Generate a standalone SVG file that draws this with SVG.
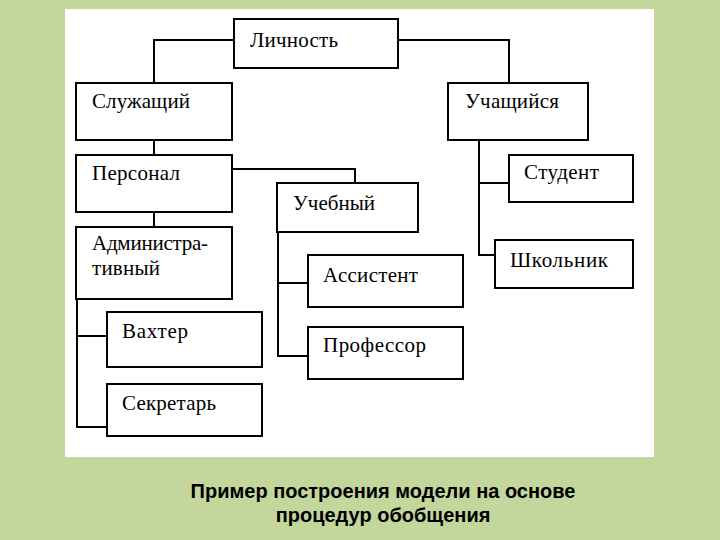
<svg xmlns="http://www.w3.org/2000/svg" width="720" height="540" viewBox="0 0 720 540">
<style>
.box{fill:#fff;stroke:#000;stroke-width:2}
.lbl{font-family:"Liberation Serif","Times New Roman",serif;font-size:21px;fill:#000}
.con{fill:none;stroke:#000;stroke-width:2}
.cap{font-family:"Liberation Sans",Arial,sans-serif;font-size:20px;font-weight:bold;fill:#000;text-anchor:middle}
</style>
<rect x="0" y="0" width="720" height="540" fill="#c3d69b"/>
<rect x="65" y="9" width="589" height="448" fill="#fff"/>
<g id="connectors">
<polyline class="con" points="234,40 154,40 154,83"/>
<polyline class="con" points="398,40 509,40 509,83"/>
<line class="con" x1="154" y1="140" x2="154" y2="155"/>
<polyline class="con" points="232,169 355,169 355,183"/>
<line class="con" x1="154" y1="212" x2="154" y2="227"/>
<polyline class="con" points="77,299 77,427 107,427"/>
<line class="con" x1="77" y1="336" x2="107" y2="336"/>
<polyline class="con" points="278,232 278,356 308,356"/>
<line class="con" x1="278" y1="283" x2="308" y2="283"/>
<polyline class="con" points="479,140 479,255 495,255"/>
<line class="con" x1="479" y1="183" x2="509" y2="183"/>
</g>
<g id="n-lichnost"><rect class="box" x="234" y="19" width="164" height="49"/><text class="lbl" x="250" y="47" textLength="88">Личность</text></g>
<g id="n-sluzhashchiy"><rect class="box" x="76" y="83" width="156" height="57"/><text class="lbl" x="92" y="108" textLength="98">Служащий</text></g>
<g id="n-personal"><rect class="box" x="76" y="155" width="156" height="57"/><text class="lbl" x="92" y="180" textLength="88">Персонал</text></g>
<g id="n-uchebny"><rect class="box" x="277" y="183" width="141" height="49"/><text class="lbl" x="293" y="210" textLength="82">Учебный</text></g>
<g id="n-admin"><rect class="box" x="76" y="227" width="156" height="72"/><text class="lbl" x="92" y="250" textLength="116">Администра-</text><text class="lbl" x="92" y="275" textLength="68">тивный</text></g>
<g id="n-vakhter"><rect class="box" x="107" y="312" width="155" height="55"/><text class="lbl" x="122" y="338" textLength="66">Вахтер</text></g>
<g id="n-sekretar"><rect class="box" x="107" y="384" width="155" height="52"/><text class="lbl" x="122" y="410" textLength="94">Секретарь</text></g>
<g id="n-assistent"><rect class="box" x="308" y="255" width="155" height="52"/><text class="lbl" x="323" y="282" textLength="95">Ассистент</text></g>
<g id="n-professor"><rect class="box" x="308" y="327" width="155" height="52"/><text class="lbl" x="323" y="352" textLength="103">Профессор</text></g>
<g id="n-uchashchiysya"><rect class="box" x="448" y="83" width="140" height="57"/><text class="lbl" x="465" y="108" textLength="94">Учащийся</text></g>
<g id="n-student"><rect class="box" x="509" y="155" width="124" height="47"/><text class="lbl" x="524" y="179" textLength="75">Студент</text></g>
<g id="n-shkolnik"><rect class="box" x="495" y="240" width="138" height="48"/><text class="lbl" x="510" y="267" textLength="98">Школьник</text></g>
<text class="cap" x="383" y="498">Пример построения модели на основе</text>
<text class="cap" x="383" y="522">процедур обобщения</text>
</svg>
